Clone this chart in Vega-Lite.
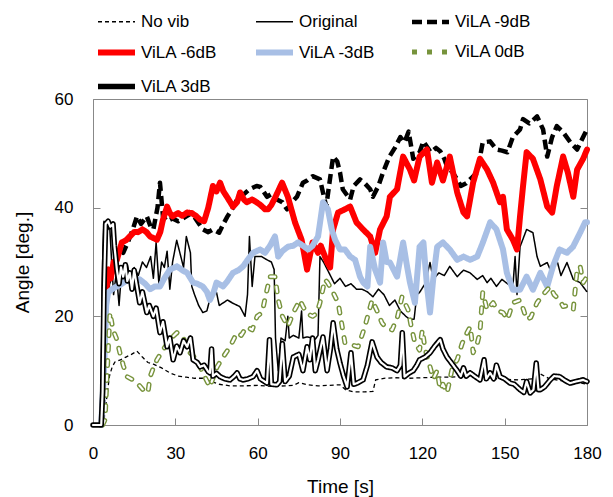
{
"$schema":"https://vega.github.io/schema/vega-lite/v6.json",
"width":494,"height":326,
"autosize":{"type":"none"},
"padding":{"left":93,"top":99,"right":26,"bottom":72},
"config":{"view":{"stroke":"#888888","strokeWidth":1},"font":"Liberation Sans","axis":{"grid":false,"labelColor":"#000000","titleColor":"#000000","titleFontWeight":"normal"}},
"data":{"values":[
{"s":"No vib","t":0,"v":0},{"s":"No vib","t":3,"v":0},{"s":"No vib","t":4,"v":1},{"s":"No vib","t":5,"v":5},{"s":"No vib","t":6,"v":9},{"s":"No vib","t":7,"v":10.7},{"s":"No vib","t":8,"v":11.6},{"s":"No vib","t":10,"v":12},{"s":"No vib","t":12,"v":12.5},{"s":"No vib","t":14,"v":13},{"s":"No vib","t":16,"v":13.6},{"s":"No vib","t":18,"v":12.5},{"s":"No vib","t":20,"v":11.5},{"s":"No vib","t":22,"v":11.2},{"s":"No vib","t":25,"v":10.5},{"s":"No vib","t":28,"v":9.6},{"s":"No vib","t":31,"v":9},{"s":"No vib","t":34,"v":8.8},{"s":"No vib","t":37,"v":8.6},{"s":"No vib","t":40,"v":8.6},{"s":"No vib","t":43,"v":8},{"s":"No vib","t":46,"v":7.5},{"s":"No vib","t":50,"v":7.2},{"s":"No vib","t":55,"v":7.2},{"s":"No vib","t":60,"v":7.3},{"s":"No vib","t":65,"v":7.1},{"s":"No vib","t":70,"v":7.2},{"s":"No vib","t":73,"v":7.3},{"s":"No vib","t":75,"v":7.8},{"s":"No vib","t":78,"v":7.4},{"s":"No vib","t":82,"v":7.2},{"s":"No vib","t":86,"v":7.3},{"s":"No vib","t":90,"v":7.4},{"s":"No vib","t":92,"v":6.5},{"s":"No vib","t":95,"v":6.1},{"s":"No vib","t":99,"v":6.1},{"s":"No vib","t":102,"v":6.2},{"s":"No vib","t":103,"v":8.3},{"s":"No vib","t":106,"v":8.6},{"s":"No vib","t":110,"v":8.7},{"s":"No vib","t":115,"v":8.6},{"s":"No vib","t":120,"v":8.7},{"s":"No vib","t":125,"v":8.8},{"s":"No vib","t":130,"v":8.8},{"s":"No vib","t":135,"v":8.9},{"s":"No vib","t":140,"v":9},{"s":"No vib","t":145,"v":8.6},{"s":"No vib","t":150,"v":8.4},{"s":"No vib","t":155,"v":8.3},{"s":"No vib","t":160,"v":8.5},{"s":"No vib","t":163,"v":9.4},{"s":"No vib","t":166,"v":8.6},{"s":"No vib","t":170,"v":8.2},{"s":"No vib","t":175,"v":8},{"s":"No vib","t":180,"v":7.5},
{"s":"Original","t":0,"v":0},{"s":"Original","t":2.5,"v":0},{"s":"Original","t":3,"v":8},{"s":"Original","t":3.5,"v":30},{"s":"Original","t":4,"v":37.5},{"s":"Original","t":5,"v":37},{"s":"Original","t":5.5,"v":36},{"s":"Original","t":6,"v":37.3},{"s":"Original","t":6.8,"v":30},{"s":"Original","t":7.5,"v":24},{"s":"Original","t":8.5,"v":28},{"s":"Original","t":9.5,"v":22},{"s":"Original","t":10.5,"v":29},{"s":"Original","t":11.5,"v":26},{"s":"Original","t":12.5,"v":29.5},{"s":"Original","t":13.5,"v":27},{"s":"Original","t":15,"v":29},{"s":"Original","t":16.5,"v":27.5},{"s":"Original","t":18,"v":30},{"s":"Original","t":19.5,"v":29},{"s":"Original","t":21,"v":31},{"s":"Original","t":22,"v":27},{"s":"Original","t":23,"v":33.6},{"s":"Original","t":24,"v":26},{"s":"Original","t":25,"v":30},{"s":"Original","t":26,"v":29},{"s":"Original","t":27,"v":32},{"s":"Original","t":28,"v":25},{"s":"Original","t":29,"v":30},{"s":"Original","t":30.5,"v":34},{"s":"Original","t":32,"v":31},{"s":"Original","t":33,"v":29},{"s":"Original","t":34,"v":34.7},{"s":"Original","t":35.5,"v":31.7},{"s":"Original","t":36,"v":25.5},{"s":"Original","t":37,"v":24},{"s":"Original","t":38.5,"v":22},{"s":"Original","t":40,"v":20.7},{"s":"Original","t":41.5,"v":21},{"s":"Original","t":43,"v":24},{"s":"Original","t":45,"v":24.4},{"s":"Original","t":46,"v":22},{"s":"Original","t":47.5,"v":22.5},{"s":"Original","t":49,"v":23},{"s":"Original","t":51,"v":22.4},{"s":"Original","t":53.5,"v":21.8},{"s":"Original","t":55.4,"v":20},{"s":"Original","t":56.3,"v":24},{"s":"Original","t":57,"v":34.7},{"s":"Original","t":58,"v":25.5},{"s":"Original","t":59,"v":31},{"s":"Original","t":61.5,"v":31},{"s":"Original","t":63,"v":30.5},{"s":"Original","t":65,"v":30},{"s":"Original","t":66,"v":28.6},{"s":"Original","t":66.5,"v":16},{"s":"Original","t":67.5,"v":10},{"s":"Original","t":68.5,"v":16},{"s":"Original","t":70,"v":15.5},{"s":"Original","t":71,"v":20},{"s":"Original","t":71.5,"v":16},{"s":"Original","t":73,"v":16.5},{"s":"Original","t":75,"v":16},{"s":"Original","t":76,"v":21},{"s":"Original","t":76.5,"v":16},{"s":"Original","t":78,"v":16.2},{"s":"Original","t":80,"v":16},{"s":"Original","t":81,"v":15.8},{"s":"Original","t":82,"v":16.5},{"s":"Original","t":82.7,"v":31},{"s":"Original","t":84,"v":30},{"s":"Original","t":86,"v":28},{"s":"Original","t":88,"v":26},{"s":"Original","t":90,"v":27},{"s":"Original","t":92,"v":25.5},{"s":"Original","t":94,"v":26},{"s":"Original","t":96,"v":25},{"s":"Original","t":98,"v":25},{"s":"Original","t":100,"v":24.5},{"s":"Original","t":102,"v":23.6},{"s":"Original","t":104,"v":25},{"s":"Original","t":106,"v":24},{"s":"Original","t":108,"v":22},{"s":"Original","t":110,"v":23},{"s":"Original","t":112,"v":21},{"s":"Original","t":114,"v":20},{"s":"Original","t":115.5,"v":19.4},{"s":"Original","t":117,"v":19.5},{"s":"Original","t":118,"v":24},{"s":"Original","t":119,"v":24.4},{"s":"Original","t":121,"v":26},{"s":"Original","t":122.8,"v":29.9},{"s":"Original","t":124,"v":26.8},{"s":"Original","t":126,"v":28},{"s":"Original","t":128,"v":27.5},{"s":"Original","t":130,"v":29.2},{"s":"Original","t":132.7,"v":27.3},{"s":"Original","t":135,"v":28.5},{"s":"Original","t":137.4,"v":28},{"s":"Original","t":140,"v":26.8},{"s":"Original","t":142,"v":27.5},{"s":"Original","t":143.6,"v":26.2},{"s":"Original","t":145,"v":27},{"s":"Original","t":147,"v":25.5},{"s":"Original","t":149,"v":26.8},{"s":"Original","t":151,"v":26},{"s":"Original","t":153,"v":25.5},{"s":"Original","t":153.8,"v":31},{"s":"Original","t":154.5,"v":24},{"s":"Original","t":155.6,"v":32.8},{"s":"Original","t":158,"v":36},{"s":"Original","t":160.3,"v":35.4},{"s":"Original","t":161.8,"v":31},{"s":"Original","t":163,"v":29.2},{"s":"Original","t":165.5,"v":29.9},{"s":"Original","t":166.6,"v":28.6},{"s":"Original","t":169,"v":30.4},{"s":"Original","t":170.5,"v":27.5},{"s":"Original","t":172.7,"v":29.9},{"s":"Original","t":175,"v":26.8},{"s":"Original","t":177.5,"v":26.2},{"s":"Original","t":180,"v":24.5},
{"s":"ViLA -9dB","t":3.5,"v":0},{"s":"ViLA -9dB","t":4.5,"v":20},{"s":"ViLA -9dB","t":5.5,"v":26},{"s":"ViLA -9dB","t":7,"v":28},{"s":"ViLA -9dB","t":8,"v":30.4},{"s":"ViLA -9dB","t":10,"v":32.3},{"s":"ViLA -9dB","t":11,"v":31.7},{"s":"ViLA -9dB","t":13,"v":34},{"s":"ViLA -9dB","t":14.5,"v":36},{"s":"ViLA -9dB","t":16,"v":38.4},{"s":"ViLA -9dB","t":17.5,"v":37},{"s":"ViLA -9dB","t":19.6,"v":38.4},{"s":"ViLA -9dB","t":21,"v":36.5},{"s":"ViLA -9dB","t":22,"v":36},{"s":"ViLA -9dB","t":23.5,"v":40},{"s":"ViLA -9dB","t":24.4,"v":44.6},{"s":"ViLA -9dB","t":25.5,"v":38.4},{"s":"ViLA -9dB","t":27,"v":37.5},{"s":"ViLA -9dB","t":29,"v":38},{"s":"ViLA -9dB","t":31,"v":37.5},{"s":"ViLA -9dB","t":34,"v":38.4},{"s":"ViLA -9dB","t":36,"v":39},{"s":"ViLA -9dB","t":38,"v":37.5},{"s":"ViLA -9dB","t":40,"v":36},{"s":"ViLA -9dB","t":42,"v":35.5},{"s":"ViLA -9dB","t":43.7,"v":36},{"s":"ViLA -9dB","t":46,"v":35.4},{"s":"ViLA -9dB","t":47.5,"v":37},{"s":"ViLA -9dB","t":49,"v":38.4},{"s":"ViLA -9dB","t":51,"v":40},{"s":"ViLA -9dB","t":52.5,"v":41.5},{"s":"ViLA -9dB","t":55,"v":42.5},{"s":"ViLA -9dB","t":57,"v":43.4},{"s":"ViLA -9dB","t":59.6,"v":44},{"s":"ViLA -9dB","t":61,"v":43.8},{"s":"ViLA -9dB","t":63.4,"v":42},{"s":"ViLA -9dB","t":65,"v":42.5},{"s":"ViLA -9dB","t":67,"v":41.5},{"s":"ViLA -9dB","t":69,"v":41},{"s":"ViLA -9dB","t":70.7,"v":39.7},{"s":"ViLA -9dB","t":72.5,"v":41},{"s":"ViLA -9dB","t":74.3,"v":42},{"s":"ViLA -9dB","t":76.5,"v":44.6},{"s":"ViLA -9dB","t":78,"v":45},{"s":"ViLA -9dB","t":80,"v":45.8},{"s":"ViLA -9dB","t":82.7,"v":45.2},{"s":"ViLA -9dB","t":83.8,"v":42.8},{"s":"ViLA -9dB","t":85,"v":40.2},{"s":"ViLA -9dB","t":86,"v":44},{"s":"ViLA -9dB","t":87.5,"v":49.4},{"s":"ViLA -9dB","t":89,"v":48.5},{"s":"ViLA -9dB","t":90,"v":46.5},{"s":"ViLA -9dB","t":91,"v":43.4},{"s":"ViLA -9dB","t":93.7,"v":41.5},{"s":"ViLA -9dB","t":95,"v":44},{"s":"ViLA -9dB","t":97.3,"v":45.2},{"s":"ViLA -9dB","t":99,"v":44.5},{"s":"ViLA -9dB","t":101,"v":43.4},{"s":"ViLA -9dB","t":102,"v":42},{"s":"ViLA -9dB","t":104,"v":44},{"s":"ViLA -9dB","t":105.7,"v":46.5},{"s":"ViLA -9dB","t":108,"v":49.4},{"s":"ViLA -9dB","t":110,"v":51},{"s":"ViLA -9dB","t":112,"v":53},{"s":"ViLA -9dB","t":113.5,"v":52},{"s":"ViLA -9dB","t":115,"v":54},{"s":"ViLA -9dB","t":116.7,"v":49},{"s":"ViLA -9dB","t":119,"v":50.2},{"s":"ViLA -9dB","t":120.4,"v":52.2},{"s":"ViLA -9dB","t":122,"v":51},{"s":"ViLA -9dB","t":123,"v":50.2},{"s":"ViLA -9dB","t":125,"v":51},{"s":"ViLA -9dB","t":126.5,"v":50.4},{"s":"ViLA -9dB","t":128,"v":49},{"s":"ViLA -9dB","t":129,"v":47.6},{"s":"ViLA -9dB","t":131,"v":46.5},{"s":"ViLA -9dB","t":132.7,"v":45.2},{"s":"ViLA -9dB","t":134,"v":44},{"s":"ViLA -9dB","t":136,"v":44.5},{"s":"ViLA -9dB","t":138,"v":45.5},{"s":"ViLA -9dB","t":140,"v":46.5},{"s":"ViLA -9dB","t":142,"v":52},{"s":"ViLA -9dB","t":144.7,"v":52.2},{"s":"ViLA -9dB","t":147,"v":50.7},{"s":"ViLA -9dB","t":149,"v":50.5},{"s":"ViLA -9dB","t":151,"v":50.2},{"s":"ViLA -9dB","t":153,"v":53},{"s":"ViLA -9dB","t":155.6,"v":54.4},{"s":"ViLA -9dB","t":156.7,"v":56.3},{"s":"ViLA -9dB","t":159,"v":55.5},{"s":"ViLA -9dB","t":161.8,"v":56.8},{"s":"ViLA -9dB","t":164,"v":54.4},{"s":"ViLA -9dB","t":165.5,"v":49.4},{"s":"ViLA -9dB","t":167.3,"v":53},{"s":"ViLA -9dB","t":169,"v":55},{"s":"ViLA -9dB","t":171.3,"v":53.9},{"s":"ViLA -9dB","t":174,"v":52},{"s":"ViLA -9dB","t":176.4,"v":50.7},{"s":"ViLA -9dB","t":178.6,"v":53},{"s":"ViLA -9dB","t":180,"v":54.4},
{"s":"ViLA -6dB","t":4.5,"v":22},{"s":"ViLA -6dB","t":5.5,"v":28.6},{"s":"ViLA -6dB","t":6.5,"v":27},{"s":"ViLA -6dB","t":7.5,"v":30},{"s":"ViLA -6dB","t":8.7,"v":30.4},{"s":"ViLA -6dB","t":10.5,"v":33.6},{"s":"ViLA -6dB","t":12,"v":34},{"s":"ViLA -6dB","t":13.4,"v":34.7},{"s":"ViLA -6dB","t":15,"v":35.5},{"s":"ViLA -6dB","t":16.5,"v":35.5},{"s":"ViLA -6dB","t":18,"v":36},{"s":"ViLA -6dB","t":19.5,"v":35.5},{"s":"ViLA -6dB","t":20.8,"v":34.7},{"s":"ViLA -6dB","t":23.3,"v":34.1},{"s":"ViLA -6dB","t":24.5,"v":35.5},{"s":"ViLA -6dB","t":25.5,"v":37.8},{"s":"ViLA -6dB","t":27,"v":40.2},{"s":"ViLA -6dB","t":28,"v":39},{"s":"ViLA -6dB","t":29,"v":38.4},{"s":"ViLA -6dB","t":31,"v":39},{"s":"ViLA -6dB","t":32.5,"v":38.5},{"s":"ViLA -6dB","t":34.3,"v":39.1},{"s":"ViLA -6dB","t":36,"v":39},{"s":"ViLA -6dB","t":37.5,"v":38.5},{"s":"ViLA -6dB","t":39,"v":37.8},{"s":"ViLA -6dB","t":40.5,"v":37.5},{"s":"ViLA -6dB","t":42,"v":40},{"s":"ViLA -6dB","t":43.7,"v":44},{"s":"ViLA -6dB","t":45,"v":43},{"s":"ViLA -6dB","t":46.3,"v":44.6},{"s":"ViLA -6dB","t":47.5,"v":43},{"s":"ViLA -6dB","t":48.8,"v":42},{"s":"ViLA -6dB","t":51,"v":40.2},{"s":"ViLA -6dB","t":52.5,"v":41},{"s":"ViLA -6dB","t":53.6,"v":42.8},{"s":"ViLA -6dB","t":55,"v":41.5},{"s":"ViLA -6dB","t":56,"v":41},{"s":"ViLA -6dB","t":58,"v":41.5},{"s":"ViLA -6dB","t":59.6,"v":41},{"s":"ViLA -6dB","t":61,"v":40.5},{"s":"ViLA -6dB","t":62.7,"v":39.7},{"s":"ViLA -6dB","t":63.8,"v":39.7},{"s":"ViLA -6dB","t":65,"v":40.5},{"s":"ViLA -6dB","t":66.5,"v":42},{"s":"ViLA -6dB","t":68.9,"v":44.6},{"s":"ViLA -6dB","t":71,"v":42},{"s":"ViLA -6dB","t":73.6,"v":37.3},{"s":"ViLA -6dB","t":76,"v":34.1},{"s":"ViLA -6dB","t":78,"v":28.6},{"s":"ViLA -6dB","t":80,"v":33.6},{"s":"ViLA -6dB","t":82,"v":31.7},{"s":"ViLA -6dB","t":83,"v":33},{"s":"ViLA -6dB","t":85.3,"v":30},{"s":"ViLA -6dB","t":86.4,"v":29},{"s":"ViLA -6dB","t":87.5,"v":36},{"s":"ViLA -6dB","t":89.3,"v":39.1},{"s":"ViLA -6dB","t":91.8,"v":39.7},{"s":"ViLA -6dB","t":93.7,"v":40.2},{"s":"ViLA -6dB","t":96,"v":37.3},{"s":"ViLA -6dB","t":98.4,"v":36},{"s":"ViLA -6dB","t":101,"v":34.7},{"s":"ViLA -6dB","t":102.8,"v":31.7},{"s":"ViLA -6dB","t":104.6,"v":36},{"s":"ViLA -6dB","t":107,"v":38.4},{"s":"ViLA -6dB","t":108.2,"v":42},{"s":"ViLA -6dB","t":110.8,"v":43.4},{"s":"ViLA -6dB","t":113,"v":49.4},{"s":"ViLA -6dB","t":115.5,"v":47},{"s":"ViLA -6dB","t":117,"v":45},{"s":"ViLA -6dB","t":119,"v":49.4},{"s":"ViLA -6dB","t":121.7,"v":50.7},{"s":"ViLA -6dB","t":123.5,"v":44.6},{"s":"ViLA -6dB","t":125.4,"v":48.3},{"s":"ViLA -6dB","t":127.5,"v":45},{"s":"ViLA -6dB","t":130,"v":49.4},{"s":"ViLA -6dB","t":132.7,"v":42.8},{"s":"ViLA -6dB","t":135,"v":39.1},{"s":"ViLA -6dB","t":136.3,"v":38.4},{"s":"ViLA -6dB","t":138.5,"v":44.6},{"s":"ViLA -6dB","t":141,"v":49},{"s":"ViLA -6dB","t":143.6,"v":47},{"s":"ViLA -6dB","t":145.8,"v":44.6},{"s":"ViLA -6dB","t":148.3,"v":41},{"s":"ViLA -6dB","t":149.4,"v":42},{"s":"ViLA -6dB","t":150.8,"v":36},{"s":"ViLA -6dB","t":153,"v":34.1},{"s":"ViLA -6dB","t":154.5,"v":32.3},{"s":"ViLA -6dB","t":155.6,"v":38.4},{"s":"ViLA -6dB","t":156.7,"v":44},{"s":"ViLA -6dB","t":158,"v":50.2},{"s":"ViLA -6dB","t":160.3,"v":49},{"s":"ViLA -6dB","t":163,"v":45.2},{"s":"ViLA -6dB","t":165.5,"v":40.2},{"s":"ViLA -6dB","t":167.3,"v":39.1},{"s":"ViLA -6dB","t":169,"v":44},{"s":"ViLA -6dB","t":171.3,"v":49.4},{"s":"ViLA -6dB","t":173,"v":46.5},{"s":"ViLA -6dB","t":175,"v":42},{"s":"ViLA -6dB","t":176.4,"v":47},{"s":"ViLA -6dB","t":178.6,"v":49},{"s":"ViLA -6dB","t":180,"v":50.7},
{"s":"ViLA -3dB","t":3,"v":0},{"s":"ViLA -3dB","t":4,"v":10},{"s":"ViLA -3dB","t":4.8,"v":22},{"s":"ViLA -3dB","t":5.5,"v":24.4},{"s":"ViLA -3dB","t":7,"v":25},{"s":"ViLA -3dB","t":8.7,"v":25.5},{"s":"ViLA -3dB","t":10.5,"v":26},{"s":"ViLA -3dB","t":12,"v":26.5},{"s":"ViLA -3dB","t":14,"v":26.5},{"s":"ViLA -3dB","t":17,"v":26.8},{"s":"ViLA -3dB","t":19,"v":26},{"s":"ViLA -3dB","t":20.8,"v":25},{"s":"ViLA -3dB","t":22.5,"v":25.5},{"s":"ViLA -3dB","t":24.4,"v":25.5},{"s":"ViLA -3dB","t":26,"v":27},{"s":"ViLA -3dB","t":28,"v":28.6},{"s":"ViLA -3dB","t":30.6,"v":29.2},{"s":"ViLA -3dB","t":32.5,"v":28.5},{"s":"ViLA -3dB","t":34.3,"v":28},{"s":"ViLA -3dB","t":36.5,"v":26.2},{"s":"ViLA -3dB","t":38,"v":26},{"s":"ViLA -3dB","t":40,"v":25.5},{"s":"ViLA -3dB","t":41.5,"v":24.5},{"s":"ViLA -3dB","t":42.6,"v":23},{"s":"ViLA -3dB","t":44,"v":24.5},{"s":"ViLA -3dB","t":45,"v":26.2},{"s":"ViLA -3dB","t":47.4,"v":25.5},{"s":"ViLA -3dB","t":49,"v":26.5},{"s":"ViLA -3dB","t":51,"v":28},{"s":"ViLA -3dB","t":53,"v":28.5},{"s":"ViLA -3dB","t":54.7,"v":29.2},{"s":"ViLA -3dB","t":56.5,"v":30.5},{"s":"ViLA -3dB","t":58.3,"v":31.7},{"s":"ViLA -3dB","t":60.9,"v":32.3},{"s":"ViLA -3dB","t":62.7,"v":31.7},{"s":"ViLA -3dB","t":64.5,"v":33},{"s":"ViLA -3dB","t":66.3,"v":34.7},{"s":"ViLA -3dB","t":67.5,"v":31},{"s":"ViLA -3dB","t":69,"v":32},{"s":"ViLA -3dB","t":71,"v":32.8},{"s":"ViLA -3dB","t":73,"v":33},{"s":"ViLA -3dB","t":74.7,"v":33.6},{"s":"ViLA -3dB","t":76.5,"v":33},{"s":"ViLA -3dB","t":78.4,"v":32.3},{"s":"ViLA -3dB","t":80,"v":33},{"s":"ViLA -3dB","t":82,"v":34.7},{"s":"ViLA -3dB","t":83.8,"v":41},{"s":"ViLA -3dB","t":85.6,"v":39.7},{"s":"ViLA -3dB","t":87,"v":36},{"s":"ViLA -3dB","t":88.2,"v":34.1},{"s":"ViLA -3dB","t":90,"v":32.3},{"s":"ViLA -3dB","t":91.8,"v":32.3},{"s":"ViLA -3dB","t":93.7,"v":31},{"s":"ViLA -3dB","t":95.5,"v":30.4},{"s":"ViLA -3dB","t":97.3,"v":27.3},{"s":"ViLA -3dB","t":98.5,"v":26.2},{"s":"ViLA -3dB","t":100,"v":25.5},{"s":"ViLA -3dB","t":101,"v":32.8},{"s":"ViLA -3dB","t":102.8,"v":28.6},{"s":"ViLA -3dB","t":104.6,"v":26.2},{"s":"ViLA -3dB","t":105.7,"v":33.6},{"s":"ViLA -3dB","t":107,"v":30},{"s":"ViLA -3dB","t":108.2,"v":29.9},{"s":"ViLA -3dB","t":110.8,"v":27.3},{"s":"ViLA -3dB","t":113,"v":33.6},{"s":"ViLA -3dB","t":114.5,"v":29},{"s":"ViLA -3dB","t":115.5,"v":26.2},{"s":"ViLA -3dB","t":117.3,"v":22.5},{"s":"ViLA -3dB","t":119,"v":32.8},{"s":"ViLA -3dB","t":120.4,"v":33.6},{"s":"ViLA -3dB","t":121.7,"v":25.5},{"s":"ViLA -3dB","t":122.8,"v":20.7},{"s":"ViLA -3dB","t":124,"v":27},{"s":"ViLA -3dB","t":125.4,"v":32.8},{"s":"ViLA -3dB","t":127.5,"v":33.6},{"s":"ViLA -3dB","t":130,"v":32.3},{"s":"ViLA -3dB","t":132.7,"v":30.4},{"s":"ViLA -3dB","t":135,"v":31},{"s":"ViLA -3dB","t":137.4,"v":30.4},{"s":"ViLA -3dB","t":140,"v":31},{"s":"ViLA -3dB","t":142,"v":33.5},{"s":"ViLA -3dB","t":144.7,"v":37.3},{"s":"ViLA -3dB","t":147,"v":36},{"s":"ViLA -3dB","t":149.4,"v":32.3},{"s":"ViLA -3dB","t":150.8,"v":28},{"s":"ViLA -3dB","t":153,"v":24.9},{"s":"ViLA -3dB","t":155.6,"v":24.9},{"s":"ViLA -3dB","t":158,"v":27.3},{"s":"ViLA -3dB","t":160.3,"v":24.9},{"s":"ViLA -3dB","t":163,"v":28},{"s":"ViLA -3dB","t":165.5,"v":25.5},{"s":"ViLA -3dB","t":167.6,"v":29.2},{"s":"ViLA -3dB","t":170,"v":32.3},{"s":"ViLA -3dB","t":172.7,"v":31.7},{"s":"ViLA -3dB","t":174.9,"v":32.8},{"s":"ViLA -3dB","t":177.5,"v":35.4},{"s":"ViLA -3dB","t":179.3,"v":37.3},{"s":"ViLA -3dB","t":180,"v":37.3},
{"s":"ViLA 0dB","t":3.5,"v":0},{"s":"ViLA 0dB","t":4.4,"v":1},{"s":"ViLA 0dB","t":5.2,"v":10},{"s":"ViLA 0dB","t":6.2,"v":20.7},{"s":"ViLA 0dB","t":7.3,"v":17.5},{"s":"ViLA 0dB","t":8.5,"v":16},{"s":"ViLA 0dB","t":9.8,"v":13.3},{"s":"ViLA 0dB","t":11,"v":11},{"s":"ViLA 0dB","t":12.4,"v":8.9},{"s":"ViLA 0dB","t":14.6,"v":8.3},{"s":"ViLA 0dB","t":16.5,"v":7.5},{"s":"ViLA 0dB","t":18.2,"v":6.5},{"s":"ViLA 0dB","t":20,"v":5.9},{"s":"ViLA 0dB","t":20.8,"v":8.9},{"s":"ViLA 0dB","t":22,"v":10.5},{"s":"ViLA 0dB","t":23.3,"v":12},{"s":"ViLA 0dB","t":25.5,"v":13.8},{"s":"ViLA 0dB","t":28,"v":15.7},{"s":"ViLA 0dB","t":30.6,"v":17},{"s":"ViLA 0dB","t":32.8,"v":16.2},{"s":"ViLA 0dB","t":35.3,"v":13.3},{"s":"ViLA 0dB","t":37.9,"v":12},{"s":"ViLA 0dB","t":40,"v":9.6},{"s":"ViLA 0dB","t":42.6,"v":7},{"s":"ViLA 0dB","t":44,"v":9},{"s":"ViLA 0dB","t":45.2,"v":10.7},{"s":"ViLA 0dB","t":47.4,"v":12.5},{"s":"ViLA 0dB","t":49.9,"v":14.4},{"s":"ViLA 0dB","t":52.5,"v":17},{"s":"ViLA 0dB","t":54,"v":16.5},{"s":"ViLA 0dB","t":56,"v":18.1},{"s":"ViLA 0dB","t":58,"v":17.5},{"s":"ViLA 0dB","t":59.8,"v":20},{"s":"ViLA 0dB","t":61.6,"v":20.7},{"s":"ViLA 0dB","t":63,"v":24},{"s":"ViLA 0dB","t":64.5,"v":27.3},{"s":"ViLA 0dB","t":66.3,"v":27.3},{"s":"ViLA 0dB","t":67.5,"v":23},{"s":"ViLA 0dB","t":69,"v":20},{"s":"ViLA 0dB","t":71,"v":18.1},{"s":"ViLA 0dB","t":73,"v":20.7},{"s":"ViLA 0dB","t":75.4,"v":23},{"s":"ViLA 0dB","t":76.5,"v":21.8},{"s":"ViLA 0dB","t":78,"v":20.5},{"s":"ViLA 0dB","t":80,"v":20},{"s":"ViLA 0dB","t":81.5,"v":20.5},{"s":"ViLA 0dB","t":82.7,"v":22.5},{"s":"ViLA 0dB","t":84.5,"v":26.8},{"s":"ViLA 0dB","t":85.5,"v":26.2},{"s":"ViLA 0dB","t":87,"v":24.9},{"s":"ViLA 0dB","t":89.3,"v":22.5},{"s":"ViLA 0dB","t":90.5,"v":19},{"s":"ViLA 0dB","t":91.8,"v":15.1},{"s":"ViLA 0dB","t":94,"v":14.8},{"s":"ViLA 0dB","t":96.6,"v":14.4},{"s":"ViLA 0dB","t":99,"v":18},{"s":"ViLA 0dB","t":101.7,"v":23},{"s":"ViLA 0dB","t":103.5,"v":21},{"s":"ViLA 0dB","t":105.3,"v":18.8},{"s":"ViLA 0dB","t":107,"v":17.8},{"s":"ViLA 0dB","t":109,"v":17.5},{"s":"ViLA 0dB","t":111,"v":20},{"s":"ViLA 0dB","t":112.6,"v":23.6},{"s":"ViLA 0dB","t":114.8,"v":21.2},{"s":"ViLA 0dB","t":116,"v":18},{"s":"ViLA 0dB","t":117.3,"v":15.1},{"s":"ViLA 0dB","t":119,"v":13.8},{"s":"ViLA 0dB","t":120,"v":17.5},{"s":"ViLA 0dB","t":121,"v":14},{"s":"ViLA 0dB","t":122.8,"v":10.7},{"s":"ViLA 0dB","t":124,"v":8.5},{"s":"ViLA 0dB","t":125.4,"v":10},{"s":"ViLA 0dB","t":126.5,"v":6.5},{"s":"ViLA 0dB","t":127.5,"v":7.5},{"s":"ViLA 0dB","t":129,"v":5.9},{"s":"ViLA 0dB","t":131,"v":10.7},{"s":"ViLA 0dB","t":132.7,"v":12},{"s":"ViLA 0dB","t":134.5,"v":15},{"s":"ViLA 0dB","t":136.3,"v":17},{"s":"ViLA 0dB","t":137.5,"v":18.1},{"s":"ViLA 0dB","t":138.5,"v":13.3},{"s":"ViLA 0dB","t":140,"v":15},{"s":"ViLA 0dB","t":141,"v":17},{"s":"ViLA 0dB","t":142,"v":24.4},{"s":"ViLA 0dB","t":143.6,"v":21.2},{"s":"ViLA 0dB","t":145.8,"v":22.5},{"s":"ViLA 0dB","t":147.5,"v":21},{"s":"ViLA 0dB","t":149.4,"v":20.7},{"s":"ViLA 0dB","t":151,"v":19.4},{"s":"ViLA 0dB","t":153,"v":22.5},{"s":"ViLA 0dB","t":155.6,"v":23},{"s":"ViLA 0dB","t":157,"v":21},{"s":"ViLA 0dB","t":158,"v":19.4},{"s":"ViLA 0dB","t":159.5,"v":19.8},{"s":"ViLA 0dB","t":161.8,"v":22.5},{"s":"ViLA 0dB","t":164,"v":24},{"s":"ViLA 0dB","t":166.6,"v":25.5},{"s":"ViLA 0dB","t":168,"v":24},{"s":"ViLA 0dB","t":170,"v":23},{"s":"ViLA 0dB","t":171.3,"v":21.8},{"s":"ViLA 0dB","t":173,"v":22},{"s":"ViLA 0dB","t":175,"v":21.2},{"s":"ViLA 0dB","t":176.4,"v":28.6},{"s":"ViLA 0dB","t":177.5,"v":29.2},{"s":"ViLA 0dB","t":178.6,"v":26.2},{"s":"ViLA 0dB","t":180,"v":27.3},
{"s":"ViLA 3dB","t":0,"v":0},{"s":"ViLA 3dB","t":3,"v":0},{"s":"ViLA 3dB","t":3.5,"v":6},{"s":"ViLA 3dB","t":4,"v":25},{"s":"ViLA 3dB","t":4.6,"v":37},{"s":"ViLA 3dB","t":5.5,"v":37.5},{"s":"ViLA 3dB","t":6.3,"v":36.5},{"s":"ViLA 3dB","t":7.3,"v":37},{"s":"ViLA 3dB","t":7.8,"v":33},{"s":"ViLA 3dB","t":8.7,"v":28.6},{"s":"ViLA 3dB","t":9.5,"v":26},{"s":"ViLA 3dB","t":10.2,"v":29},{"s":"ViLA 3dB","t":11,"v":27.3},{"s":"ViLA 3dB","t":11.8,"v":29.5},{"s":"ViLA 3dB","t":12.5,"v":26.5},{"s":"ViLA 3dB","t":13.4,"v":28},{"s":"ViLA 3dB","t":14.2,"v":25},{"s":"ViLA 3dB","t":15,"v":28.5},{"s":"ViLA 3dB","t":16,"v":25.5},{"s":"ViLA 3dB","t":17,"v":22.5},{"s":"ViLA 3dB","t":18,"v":24.5},{"s":"ViLA 3dB","t":19.6,"v":20.7},{"s":"ViLA 3dB","t":20.5,"v":22},{"s":"ViLA 3dB","t":22,"v":20},{"s":"ViLA 3dB","t":23,"v":21.5},{"s":"ViLA 3dB","t":24.4,"v":17},{"s":"ViLA 3dB","t":25.5,"v":19},{"s":"ViLA 3dB","t":27,"v":14.4},{"s":"ViLA 3dB","t":28,"v":16},{"s":"ViLA 3dB","t":29.2,"v":12},{"s":"ViLA 3dB","t":30.5,"v":14.5},{"s":"ViLA 3dB","t":31.7,"v":13.3},{"s":"ViLA 3dB","t":33,"v":15.5},{"s":"ViLA 3dB","t":34.3,"v":14.4},{"s":"ViLA 3dB","t":35.5,"v":16},{"s":"ViLA 3dB","t":36.5,"v":12},{"s":"ViLA 3dB","t":38,"v":11.5},{"s":"ViLA 3dB","t":39,"v":10.7},{"s":"ViLA 3dB","t":40.5,"v":11},{"s":"ViLA 3dB","t":42,"v":9.8},{"s":"ViLA 3dB","t":42.6,"v":9.6},{"s":"ViLA 3dB","t":43.2,"v":14},{"s":"ViLA 3dB","t":43.7,"v":9},{"s":"ViLA 3dB","t":45,"v":9.5},{"s":"ViLA 3dB","t":46.3,"v":8.9},{"s":"ViLA 3dB","t":48,"v":8.5},{"s":"ViLA 3dB","t":49.9,"v":8.3},{"s":"ViLA 3dB","t":51.5,"v":9},{"s":"ViLA 3dB","t":52.5,"v":9.6},{"s":"ViLA 3dB","t":53.5,"v":8.5},{"s":"ViLA 3dB","t":54.7,"v":8.3},{"s":"ViLA 3dB","t":56.5,"v":8.5},{"s":"ViLA 3dB","t":58.3,"v":8.9},{"s":"ViLA 3dB","t":59.8,"v":10},{"s":"ViLA 3dB","t":61,"v":8.5},{"s":"ViLA 3dB","t":63.4,"v":7.7},{"s":"ViLA 3dB","t":64.3,"v":15.7},{"s":"ViLA 3dB","t":65,"v":7.5},{"s":"ViLA 3dB","t":67,"v":7.4},{"s":"ViLA 3dB","t":68,"v":8},{"s":"ViLA 3dB","t":69,"v":15},{"s":"ViLA 3dB","t":70,"v":8},{"s":"ViLA 3dB","t":71.5,"v":9},{"s":"ViLA 3dB","t":73,"v":12.5},{"s":"ViLA 3dB","t":75,"v":13},{"s":"ViLA 3dB","t":76.5,"v":10},{"s":"ViLA 3dB","t":78,"v":14.4},{"s":"ViLA 3dB","t":79,"v":12},{"s":"ViLA 3dB","t":80,"v":16},{"s":"ViLA 3dB","t":81,"v":10},{"s":"ViLA 3dB","t":82,"v":12},{"s":"ViLA 3dB","t":83.8,"v":16.2},{"s":"ViLA 3dB","t":85.3,"v":10},{"s":"ViLA 3dB","t":86.5,"v":14},{"s":"ViLA 3dB","t":87.5,"v":18.8},{"s":"ViLA 3dB","t":88.8,"v":14},{"s":"ViLA 3dB","t":90,"v":11.4},{"s":"ViLA 3dB","t":91.3,"v":9},{"s":"ViLA 3dB","t":92.6,"v":7},{"s":"ViLA 3dB","t":94,"v":13.3},{"s":"ViLA 3dB","t":95,"v":7.5},{"s":"ViLA 3dB","t":96.2,"v":7.7},{"s":"ViLA 3dB","t":98.4,"v":8.3},{"s":"ViLA 3dB","t":100,"v":11},{"s":"ViLA 3dB","t":101.7,"v":15.3},{"s":"ViLA 3dB","t":103.5,"v":12.5},{"s":"ViLA 3dB","t":105,"v":11.5},{"s":"ViLA 3dB","t":107,"v":10.7},{"s":"ViLA 3dB","t":109,"v":10.5},{"s":"ViLA 3dB","t":110.8,"v":10},{"s":"ViLA 3dB","t":112,"v":11},{"s":"ViLA 3dB","t":112.7,"v":17},{"s":"ViLA 3dB","t":113.5,"v":8.9},{"s":"ViLA 3dB","t":115,"v":9.5},{"s":"ViLA 3dB","t":116.7,"v":10},{"s":"ViLA 3dB","t":118,"v":11},{"s":"ViLA 3dB","t":119,"v":12},{"s":"ViLA 3dB","t":121,"v":12.5},{"s":"ViLA 3dB","t":122.8,"v":13.3},{"s":"ViLA 3dB","t":124.5,"v":14.5},{"s":"ViLA 3dB","t":126.5,"v":15.7},{"s":"ViLA 3dB","t":127.5,"v":14},{"s":"ViLA 3dB","t":129,"v":12.5},{"s":"ViLA 3dB","t":130.5,"v":11.5},{"s":"ViLA 3dB","t":132.7,"v":10},{"s":"ViLA 3dB","t":134,"v":9},{"s":"ViLA 3dB","t":135,"v":10.5},{"s":"ViLA 3dB","t":136,"v":9},{"s":"ViLA 3dB","t":137.4,"v":9.6},{"s":"ViLA 3dB","t":139,"v":9},{"s":"ViLA 3dB","t":141,"v":8.3},{"s":"ViLA 3dB","t":142.5,"v":12},{"s":"ViLA 3dB","t":143.3,"v":8.5},{"s":"ViLA 3dB","t":144.7,"v":9.6},{"s":"ViLA 3dB","t":146,"v":8.5},{"s":"ViLA 3dB","t":147,"v":11},{"s":"ViLA 3dB","t":148.3,"v":8.9},{"s":"ViLA 3dB","t":150,"v":8.5},{"s":"ViLA 3dB","t":152,"v":7.7},{"s":"ViLA 3dB","t":153.5,"v":7.5},{"s":"ViLA 3dB","t":155.6,"v":6.5},{"s":"ViLA 3dB","t":157,"v":6},{"s":"ViLA 3dB","t":158,"v":8},{"s":"ViLA 3dB","t":159.3,"v":5.9},{"s":"ViLA 3dB","t":160.5,"v":6.5},{"s":"ViLA 3dB","t":161.5,"v":11.4},{"s":"ViLA 3dB","t":162.3,"v":6.5},{"s":"ViLA 3dB","t":163,"v":6.5},{"s":"ViLA 3dB","t":164.5,"v":7},{"s":"ViLA 3dB","t":166.6,"v":8.3},{"s":"ViLA 3dB","t":168,"v":9},{"s":"ViLA 3dB","t":170,"v":8.9},{"s":"ViLA 3dB","t":172,"v":8.2},{"s":"ViLA 3dB","t":173.8,"v":7.7},{"s":"ViLA 3dB","t":176,"v":8},{"s":"ViLA 3dB","t":178.6,"v":8.3},{"s":"ViLA 3dB","t":180,"v":8}
]},
"encoding":{
 "x":{"field":"t","type":"quantitative","scale":{"domain":[0,180],"nice":false},"axis":{"values":[0,30,60,90,120,150,180],"title":"Time [s]","titleFontSize":19,"titlePadding":16,"labelFontSize":17,"labelPadding":27,"tickSize":-7,"tickColor":"#888888","domainColor":"#888888","labelFlush":false}},
 "y":{"field":"v","type":"quantitative","scale":{"domain":[0,60],"nice":false},"axis":null},
 "color":{"field":"s","type":"nominal","scale":{"domain":["No vib","Original","ViLA -9dB","ViLA -6dB","ViLA -3dB","ViLA 0dB","ViLA 3dB"],"range":["#000000","#000000","#000000","#ff0000","#a8bfe5","#77933c","#000000"]},"legend":{"orient":"none","direction":"horizontal","legendX":2,"legendY":-98,"columns":3,"title":null,"symbolType":"stroke","symbolSize":1369,"labelFontSize":17,"labelOffset":3,"columnPadding":26,"rowPadding":-4,"padding":0,"labelColor":"#000000"}},
 "strokeDash":{"field":"s","type":"nominal","scale":{"domain":["No vib","Original","ViLA -9dB","ViLA -6dB","ViLA -3dB","ViLA 0dB","ViLA 3dB"],"range":[[4,3],[1,0],[10,5],[1,0],[1,0],[5,10],[1,0]]},"legend":{"orient":"none","direction":"horizontal","legendX":2,"legendY":-98,"columns":3,"title":null,"symbolType":"stroke","symbolSize":1369,"labelFontSize":17,"labelOffset":3,"columnPadding":26,"rowPadding":-4,"padding":0,"labelColor":"#000000"}},
 "strokeWidth":{"field":"s","type":"ordinal","scale":{"type":"ordinal","domain":["No vib","Original","ViLA -9dB","ViLA -6dB","ViLA -3dB","ViLA 0dB","ViLA 3dB"],"range":[1.3,1.5,4.5,6,6,5,5.5]},"legend":{"orient":"none","direction":"horizontal","legendX":2,"legendY":-98,"columns":3,"title":null,"symbolType":"stroke","symbolSize":1369,"labelFontSize":17,"labelOffset":3,"columnPadding":26,"rowPadding":-4,"padding":0,"labelColor":"#000000"}}
},
"resolve":{"axis":{"y":"independent"}},
"layer":[
 {"transform":[{"filter":{"field":"s","equal":"No vib"}}],"mark":{"type":"line","strokeCap":"butt"},
  "encoding":{"y":{"field":"v","type":"quantitative","scale":{"domain":[0,60],"nice":false},"axis":{"orient":"left","values":[0,20,40,60],"title":"Angle [deg.]","titleFontSize":19,"titlePadding":22,"labelFontSize":17,"labelPadding":27,"tickSize":-7,"tickColor":"#888888","domainColor":"#888888","labelFlush":false}}}},
 {"transform":[{"filter":{"field":"s","equal":"Original"}}],"mark":{"type":"line","strokeJoin":"round"},
  "encoding":{"y":{"field":"v","type":"quantitative","scale":{"domain":[0,60],"nice":false},"axis":{"orient":"right","values":[0,20,40,60],"title":null,"labels":false,"domain":false,"tickSize":-7,"tickColor":"#888888"}}}},
 {"transform":[{"filter":{"field":"s","equal":"ViLA -9dB"}}],"mark":{"type":"line","strokeCap":"butt","strokeJoin":"round"}},
 {"transform":[{"filter":{"field":"s","equal":"ViLA -6dB"}}],"mark":{"type":"line","strokeCap":"round","strokeJoin":"round"}},
 {"transform":[{"filter":{"field":"s","equal":"ViLA -3dB"}}],"mark":{"type":"line","strokeCap":"round","strokeJoin":"round"}},
 {"transform":[{"filter":{"field":"s","equal":"ViLA 0dB"}}],"mark":{"type":"line","strokeCap":"round","strokeJoin":"round"}},
 {"transform":[{"filter":{"field":"s","equal":"ViLA 0dB"}}],"mark":{"type":"line","strokeCap":"round","strokeJoin":"round"},
  "encoding":{"color":{"value":"#ffffff"},"strokeDash":{"value":[5,10]},"strokeWidth":{"value":2.2}}},
 {"transform":[{"filter":{"field":"s","equal":"ViLA 3dB"}}],"mark":{"type":"line","strokeCap":"round","strokeJoin":"round"}},
 {"transform":[{"filter":{"field":"s","equal":"ViLA 3dB"}}],"mark":{"type":"line","strokeCap":"round","strokeJoin":"round"},
  "encoding":{"color":{"value":"#ffffff"},"strokeDash":{"value":[1,0]},"strokeWidth":{"value":2.2}}}
]
}
